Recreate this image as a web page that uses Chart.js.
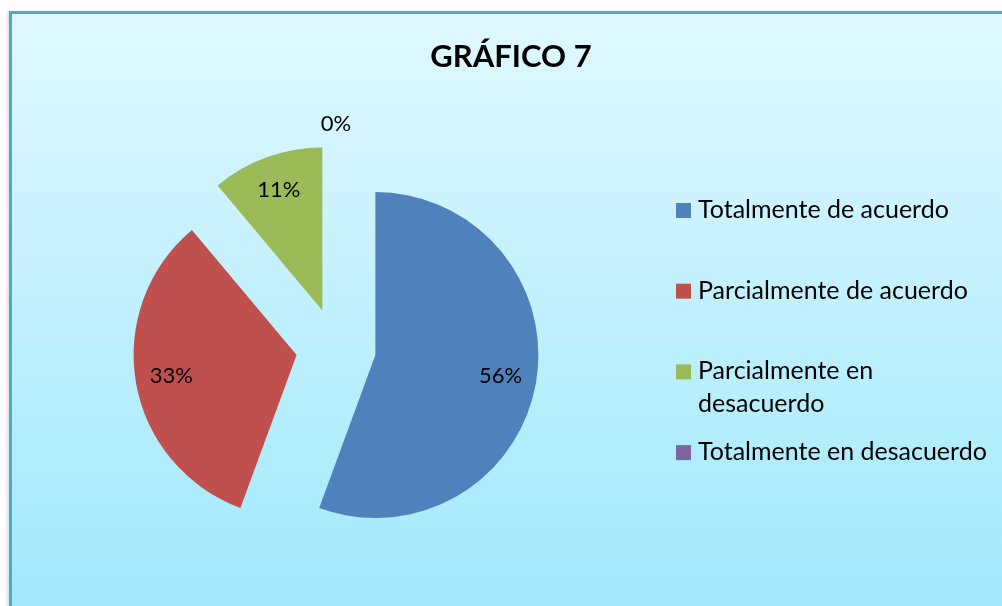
<!DOCTYPE html>
<html>
<head>
<meta charset="utf-8">
<script src="https://cdn.jsdelivr.net/npm/chart.js@4/dist/chart.umd.min.js"></script>
<style>
  html, body { margin: 0; padding: 0; width: 1002px; height: 606px; overflow: hidden; background: #fff; }
  #frame {
    position: absolute; left: 9px; top: 11px; width: 1100px; height: 620px;
    border: 3px solid #4bacc6;
    background: linear-gradient(#e0f8fe, #9ee8fc);
    box-shadow: -2px 0 2px rgba(0, 0, 0, 0.12);
  }
  #wrap { position: absolute; left: 0; top: 0; width: 1002px; height: 606px; }
</style>
</head>
<body>
<div id="frame"></div>
<div id="wrap"><canvas id="chart"></canvas></div>
<script>
const chartTitle = 'GRÁFICO 7';
const categories = ['Totalmente de acuerdo', 'Parcialmente de acuerdo', 'Parcialmente en desacuerdo', 'Totalmente en desacuerdo'];
const values = [55.6, 33.3, 11.1, 0];
const colors = ['#4f81bd', '#c0504d', '#9bbb59', '#8064a2'];

const FONT = 'Lato, "Open Sans", sans-serif';
const explode = 40; // px each slice is pulled out
const total = values.reduce((a, b) => a + b, 0);

const growth = arc => explode * (1 - Math.sin(Math.min(Math.PI, arc.circumference || 0)));

// Chart.js pulls an arc out by offset/4, but also grows its radius by
// offset/4 * (1 - sin(circ)) and trims its ends a little; undo both so
// every slice keeps the same radius and straight edges
const keepRadius = {
  id: 'keepRadius',
  afterDatasetUpdate(chart, args) {
    const meta = chart.getDatasetMeta(args.index);
    meta.data.forEach(arc => {
      const g = growth(arc);
      const drawnR = arc.outerRadius;
      arc.outerRadius = drawnR - g;
      const widen = drawnR > 0 ? g / (2 * Math.PI * drawnR) : 0;
      arc.startAngle -= widen;
      arc.endAngle += widen;
    });
  }
};

const titlePlugin = {
  id: 'titleText',
  afterDraw(chart) {
    const ctx = chart.ctx;
    ctx.save();
    ctx.font = 'bold 31px ' + FONT;
    ctx.fillStyle = '#000';
    ctx.textAlign = 'center';
    ctx.textBaseline = 'alphabetic';
    ctx.fillText(chartTitle, 511, 67);
    ctx.restore();
  }
};

const sliceLabels = {
  id: 'sliceLabels',
  afterDatasetsDraw(chart) {
    const ctx = chart.ctx;
    const meta = chart.getDatasetMeta(0);
    ctx.save();
    ctx.font = '22px ' + FONT;
    ctx.fillStyle = '#000';
    ctx.textAlign = 'center';
    ctx.textBaseline = 'middle';
    meta.data.forEach((arc, i) => {
      const p = arc.getProps(['x', 'y', 'startAngle', 'endAngle', 'outerRadius'], true);
      const r = p.outerRadius + growth(arc); // radius as drawn
      const mid = (p.startAngle + p.endAngle) / 2;
      const dist = values[i] > 0 ? explode + r * 0.78 : explode + r + 20;
      const x = p.x + Math.cos(mid) * dist;
      const y = p.y + Math.sin(mid) * dist;
      ctx.fillText(Math.round(values[i] / total * 100) + '%', x, y - 1);
    });
    ctx.restore();
  }
};

const sideLegend = {
  id: 'sideLegend',
  afterDraw(chart) {
    const ctx = chart.ctx;
    const left = 676, textX = 698, maxW = 295;
    ctx.save();
    ctx.font = '25px ' + FONT;
    ctx.textBaseline = 'alphabetic';
    ctx.textAlign = 'left';
    categories.forEach((name, i) => {
      const cy = 210.5 + i * 80.7;
      ctx.fillStyle = colors[i];
      ctx.fillRect(left, cy - 7.5, 15, 15);
      // simple word wrap
      const words = name.split(' ');
      const lines = [];
      let line = '';
      words.forEach(w => {
        const test = line ? line + ' ' + w : w;
        if (line && ctx.measureText(test).width > maxW) {
          lines.push(line);
          line = w;
        } else {
          line = test;
        }
      });
      lines.push(line);
      ctx.fillStyle = '#000';
      lines.forEach((l, j) => ctx.fillText(l, textX, cy + 7.5 + j * 33));
    });
    ctx.restore();
  }
};

new Chart(document.getElementById('chart'), {
  type: 'pie',
  data: {
    labels: categories,
    datasets: [{
      data: values,
      backgroundColor: colors,
      borderWidth: 0,
      offset: explode * 4
    }]
  },
  options: {
    responsive: true,
    maintainAspectRatio: false,
    animation: false,
    events: [],
    radius: 163,
    layout: {
      padding: { left: 136, right: 466, top: 148, bottom: 58 }
    },
    plugins: {
      legend: { display: false },
      title: { display: false },
      tooltip: { enabled: false }
    }
  },
  plugins: [keepRadius, titlePlugin, sliceLabels, sideLegend]
});
</script>
</body>
</html>
